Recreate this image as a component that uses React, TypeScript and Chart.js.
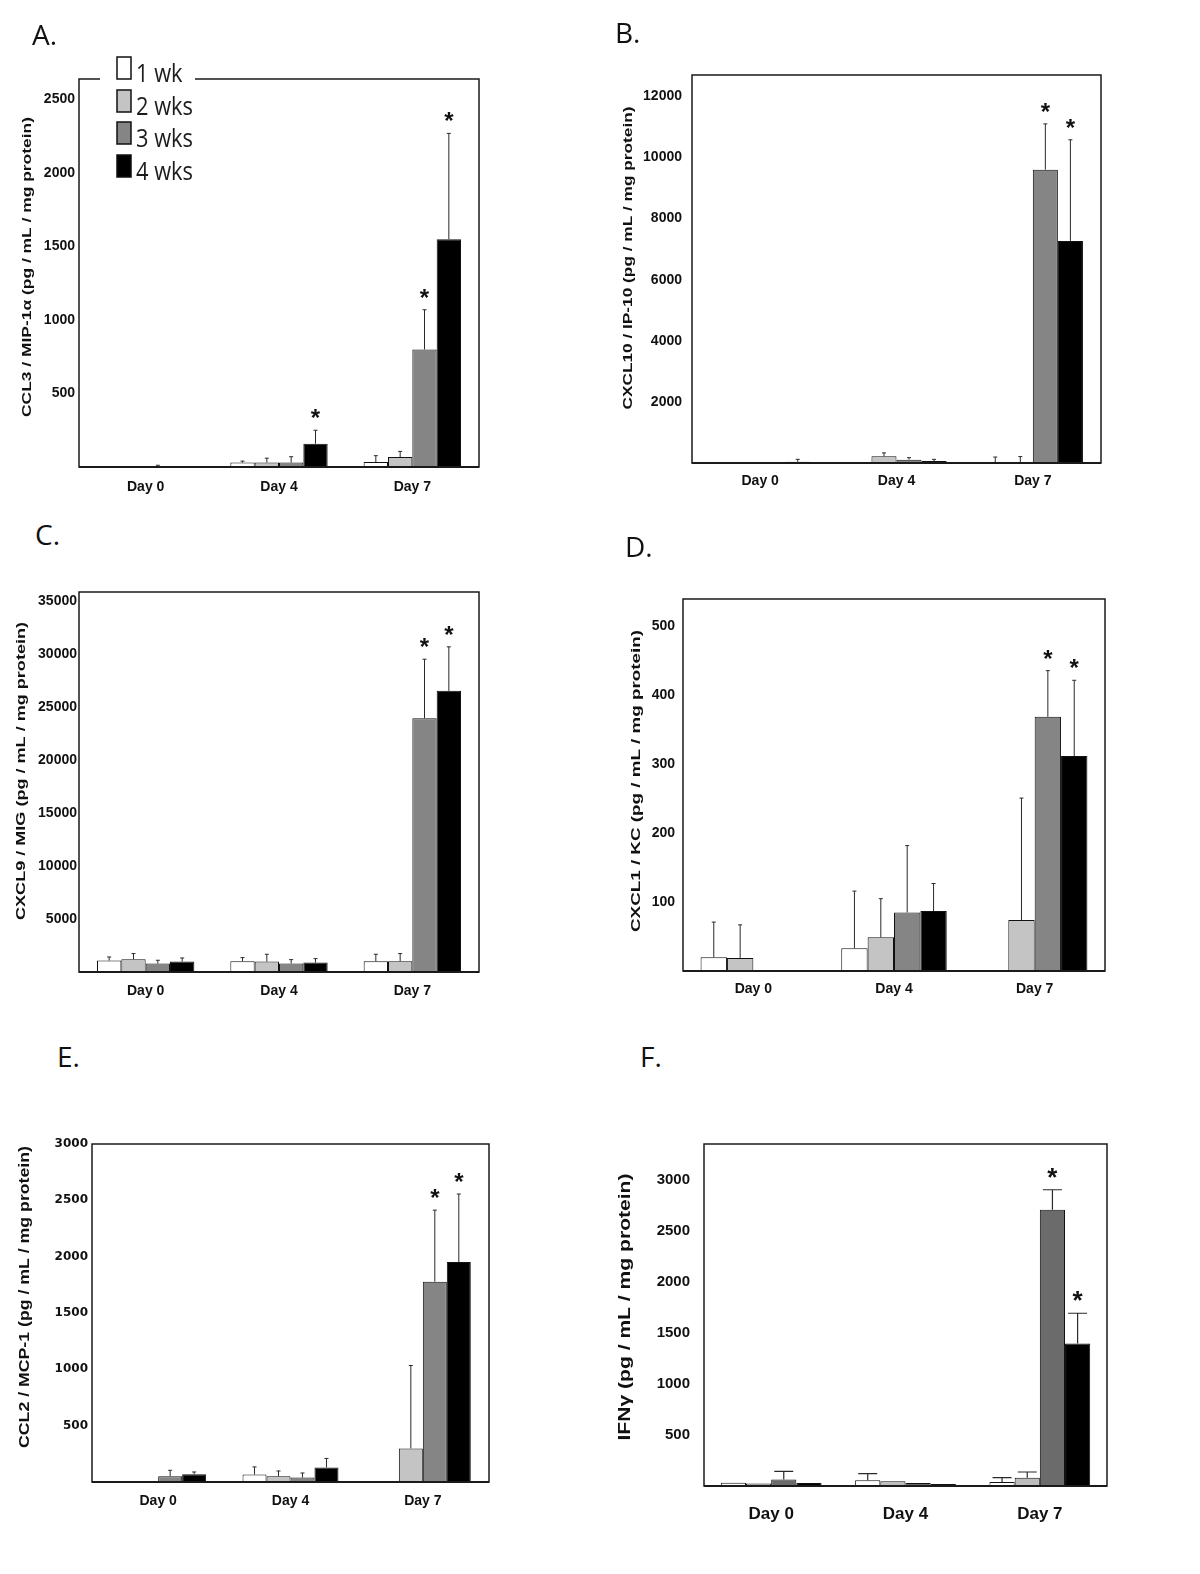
import React, { useEffect, useRef } from "react";
import { Chart, registerables } from "chart.js";

Chart.register(...registerables);

// ---------- shared ----------
const categories = ["Day 0", "Day 4", "Day 7"];
const seriesLabels = ["1 wk", "2 wks", "3 wks", "4 wks"];

// rows = series (1 wk, 2 wks, 3 wks, 4 wks), columns = Day 0, Day 4, Day 7
// A. CCL3 / MIP-1α
const ccl3Mean = [[null, 30, 34], [null, 30, 68], [5, 30, 800], [null, 158, 1550]];
const ccl3Upper = [[null, 40, 77], [null, 60, 106], [12, 70, 1070], [null, 250, 2270]];
const ccl3Sig = [[0, 0, 0], [0, 0, 0], [0, 0, 1], [0, 1, 1]];
const ccl3Ticks = [500, 1000, 1500, 2000, 2500];

// B. CXCL10 / IP-10
const cxcl10Mean = [[null, null, 30], [null, 220, 20], [null, 110, 9600], [40, 65, 7270]];
const cxcl10Upper = [[null, null, 195], [null, 330, 210], [null, 175, 11100], [120, 120, 10580]];
const cxcl10Sig = [[0, 0, 0], [0, 0, 0], [0, 0, 1], [0, 0, 1]];
const cxcl10Ticks = [2000, 4000, 6000, 8000, 10000, 12000];

// C. CXCL9 / MIG
const cxcl9Mean = [[1080, 1010, 1010], [1200, 985, 1010], [795, 795, 23970], [985, 890, 26560]];
const cxcl9Upper = [[1420, 1360, 1675], [1740, 1675, 1740], [1110, 1170, 29550], [1325, 1265, 30720]];
const cxcl9Sig = [[0, 0, 0], [0, 0, 0], [0, 0, 1], [0, 0, 1]];
const cxcl9Ticks = [5000, 10000, 15000, 20000, 25000, 30000, 35000];

// D. CXCL1 / KC
const cxcl1Mean = [[20, 33, null], [19, 49, 74], [null, 85, 369], [null, 87, 312]];
const cxcl1Upper = [[71, 116, null], [67, 105, 251], [null, 182, 436], [null, 127, 422]];
const cxcl1Sig = [[0, 0, 0], [0, 0, 0], [0, 0, 1], [0, 0, 1]];
const cxcl1Ticks = [100, 200, 300, 400, 500];

// E. CCL2 / MCP-1
const ccl2Mean = [[null, 66, null], [null, 51, 298], [51, 39, 1778], [69, 129, 1952]];
const ccl2Upper = [[null, 134, null], [null, 98, 1034], [104, 80, 2413], [89, 209, 2556]];
const ccl2Sig = [[0, 0, 0], [0, 0, 0], [0, 0, 1], [0, 0, 1]];
const ccl2Ticks = [500, 1000, 1500, 2000, 2500, 3000];

// F. IFNγ
const ifngMean = [[33, 56, 39], [25, 46, 82], [63, 29, 2706], [30, 20, 1397]];
const ifngUpper = [[null, 121, 82], [null, null, 137], [144, null, 2902], [null, null, 1692]];
const ifngSig = [[0, 0, 0], [0, 0, 0], [0, 0, 1], [0, 0, 1]];
const ifngTicks = [500, 1000, 1500, 2000, 2500, 3000];

// ---------- styling / layout ----------
const greys = ["#ffffff", "#c4c4c4", "#858585", "#000000"];
const greysF = ["#ffffff", "#bdbdbd", "#6b6b6b", "#000000"];

const narrow = (size) => ({ family: '"Liberation Sans Narrow", "Liberation Sans", Arial', size, weight: "bold" as const });

const panels = [
  {
    key: "A", letter: "A.", letterPos: [32, 20],
    title: "CCL3 / MIP-1α (pg / mL / mg protein)", titleX: 27, titleY: 267, titleLen: 300, titleFont: 'bold 13px "Liberation Sans"',
    mean: ccl3Mean, upper: ccl3Upper, sig: ccl3Sig, ticks: ccl3Ticks, yMax: 2640,
    canvas: { x: 0, y: 50, w: 600, h: 460 }, plot: { l: 79, t: 79, r: 479, b: 467 },
    groupFrac: 0.73, colors: greys, yFont: narrow(14), yPad: 4, xFont: narrow(14), xPad: 12,
    capW: 4, errW: 1, starFont: 'bold 24px "Liberation Sans"', legend: true,
  },
  {
    key: "B", letter: "B.", letterPos: [615, 18],
    title: "CXCL10 / IP-10 (pg / mL / mg protein)", titleX: 628, titleY: 258, titleLen: 303, titleFont: 'bold 13px "Liberation Sans"',
    mean: cxcl10Mean, upper: cxcl10Upper, sig: cxcl10Sig, ticks: cxcl10Ticks, yMax: 12700,
    canvas: { x: 600, y: 50, w: 600, h: 460 }, plot: { l: 692, t: 75, r: 1101, b: 463 },
    groupFrac: 0.735, colors: greys, yFont: narrow(14), yPad: 10, xFont: narrow(14), xPad: 10,
    capW: 4, errW: 1, starFont: 'bold 24px "Liberation Sans"', legend: false,
  },
  {
    key: "C", letter: "C.", letterPos: [35, 520],
    title: "CXCL9 / MIG (pg / mL / mg protein)", titleX: 21, titleY: 771, titleLen: 298, titleFont: 'bold 13px "Liberation Sans"',
    mean: cxcl9Mean, upper: cxcl9Upper, sig: cxcl9Sig, ticks: cxcl9Ticks, yMax: 35900,
    canvas: { x: 0, y: 560, w: 600, h: 460 }, plot: { l: 79, t: 592, r: 479, b: 972 },
    groupFrac: 0.73, colors: greys, yFont: narrow(14), yPad: 2, xFont: narrow(14), xPad: 11,
    capW: 4, errW: 1, starFont: 'bold 24px "Liberation Sans"', legend: false,
  },
  {
    key: "D", letter: "D.", letterPos: [625, 532],
    title: "CXCL1 / KC (pg / mL / mg protein)", titleX: 636, titleY: 781, titleLen: 302, titleFont: 'bold 13px "Liberation Sans"',
    mean: cxcl1Mean, upper: cxcl1Upper, sig: cxcl1Sig, ticks: cxcl1Ticks, yMax: 540,
    canvas: { x: 600, y: 560, w: 600, h: 460 }, plot: { l: 683, t: 599, r: 1105, b: 971 },
    groupFrac: 0.75, colors: greys, yFont: narrow(14), yPad: 8, xFont: narrow(14), xPad: 10,
    capW: 4, errW: 1, starFont: 'bold 24px "Liberation Sans"', legend: false,
  },
  {
    key: "E", letter: "E.", letterPos: [57, 1042],
    title: "CCL2 / MCP-1 (pg / mL / mg protein)", titleX: 25, titleY: 1297, titleLen: 302, titleFont: 'bold 14px "Liberation Sans"',
    mean: ccl2Mean, upper: ccl2Upper, sig: ccl2Sig, ticks: ccl2Ticks, yMax: 3000,
    canvas: { x: 0, y: 1100, w: 600, h: 474 }, plot: { l: 92, t: 1144, r: 489, b: 1482 },
    groupFrac: 0.725, colors: greys,
    yFont: { family: '"DejaVu Sans"', size: 12, weight: "bold" as const }, yPad: 4, xFont: narrow(14), xPad: 11,
    capW: 4, errW: 1, starFont: 'bold 24px "Liberation Sans"', legend: false,
  },
  {
    key: "F", letter: "F.", letterPos: [640, 1042],
    title: "IFNγ (pg / mL / mg protein)", titleX: 626, titleY: 1307, titleLen: 267, titleFont: 'bold 16px "Liberation Sans"',
    mean: ifngMean, upper: ifngUpper, sig: ifngSig, ticks: ifngTicks, yMax: 3350,
    canvas: { x: 600, y: 1100, w: 600, h: 474 }, plot: { l: 704, t: 1144, r: 1107, b: 1486 },
    groupFrac: 0.75, colors: greysF,
    yFont: { family: '"Liberation Sans", Arial', size: 15, weight: "bold" as const }, yPad: 14,
    xFont: { family: '"Liberation Sans", Arial', size: 17, weight: "bold" as const }, xPad: 18,
    capW: 19, errW: 1.2, starFont: 'bold 26px "Liberation Sans"', legend: false,
  },
];

const legendLayout = {
  bg: [100, 52, 95, 132], boxX: 117, boxW: 14, boxH: 22, tops: [57, 90, 122, 155],
  textX: 136, baselines: [82, 115, 147, 180], font: '26px "Open Sans"', refText: "2 wks", refW: 57,
};

function PanelChart({ p }) {
  const ref = useRef(null);
  useEffect(() => {
    const canvas = ref.current;
    const ox = p.canvas.x;
    const oy = p.canvas.y;
    const datasets = seriesLabels.map((label, i) => ({
      label,
      data: p.mean[i],
      backgroundColor: p.colors[i],
      borderColor: "#111",
      borderWidth: 1,
      barPercentage: 1,
      categoryPercentage: p.groupFrac,
    }));

    const decor = {
      id: "decor" + p.key,
      afterDatasetsDraw(chart) {
        const ctx = chart.ctx;
        const ca = chart.chartArea;
        const ys = chart.scales.y;
        ctx.save();
        // plot frame
        ctx.strokeStyle = "#1a1a1a";
        ctx.lineWidth = 1.5;
        ctx.strokeRect(ca.left, ca.top, ca.right - ca.left, ca.bottom - ca.top);
        ctx.lineWidth = 2.2;
        ctx.beginPath();
        ctx.moveTo(ca.left, ca.bottom);
        ctx.lineTo(ca.right, ca.bottom);
        ctx.stroke();

        // error bars and significance stars
        ctx.strokeStyle = "#2a2a2a";
        ctx.lineWidth = p.errW;
        ctx.fillStyle = "#111";
        ctx.font = p.starFont;
        ctx.textAlign = "center";
        ctx.textBaseline = "alphabetic";
        for (let i = 0; i < seriesLabels.length; i++) {
          const meta = chart.getDatasetMeta(i);
          for (let j = 0; j < categories.length; j++) {
            const up = p.upper[i][j];
            if (up == null) continue;
            const el = meta.data[j];
            const x = el.x;
            const yTop = ys.getPixelForValue(up);
            const yBase = ys.getPixelForValue(p.mean[i][j] ?? 0);
            ctx.beginPath();
            ctx.moveTo(x, yBase);
            ctx.lineTo(x, yTop);
            ctx.moveTo(x - p.capW / 2, yTop);
            ctx.lineTo(x + p.capW / 2, yTop);
            ctx.stroke();
            if (p.sig[i][j]) {
              ctx.fillText("*", x, yTop - 4);
            }
          }
        }

        // y-axis title
        ctx.save();
        ctx.translate(p.titleX - ox, p.titleY - oy);
        ctx.rotate(-Math.PI / 2);
        ctx.font = p.titleFont;
        const tw = ctx.measureText(p.title).width;
        ctx.scale(p.titleLen / tw, 1);
        ctx.textAlign = "center";
        ctx.textBaseline = "middle";
        ctx.fillStyle = "#111";
        ctx.fillText(p.title, 0, 0);
        ctx.restore();

        // legend (panel A only)
        if (p.legend) {
          const L = legendLayout;
          ctx.fillStyle = "#ffffff";
          ctx.fillRect(L.bg[0] - ox, L.bg[1] - oy, L.bg[2], L.bg[3]);
          ctx.font = L.font;
          const sx = L.refW / ctx.measureText(L.refText).width;
          for (let k = 0; k < seriesLabels.length; k++) {
            ctx.fillStyle = p.colors[k];
            ctx.fillRect(L.boxX - ox, L.tops[k] - oy, L.boxW, L.boxH);
            ctx.strokeStyle = "#111";
            ctx.lineWidth = 1.5;
            ctx.strokeRect(L.boxX - ox, L.tops[k] - oy, L.boxW, L.boxH);
            ctx.save();
            ctx.translate(L.textX - ox, L.baselines[k] - oy);
            ctx.scale(sx, 1);
            ctx.fillStyle = "#1c1c1c";
            ctx.textAlign = "left";
            ctx.textBaseline = "alphabetic";
            ctx.fillText(seriesLabels[k], 0, 0);
            ctx.restore();
          }
        }
        ctx.restore();
      },
    };

    const chart = new Chart(canvas, {
      type: "bar",
      data: { labels: categories, datasets },
      options: {
        animation: false,
        responsive: false,
        maintainAspectRatio: false,
        devicePixelRatio: 1,
        events: [],
        layout: {
          padding: {
            left: 0,
            top: p.plot.t - oy,
            right: ox + p.canvas.w - p.plot.r,
            bottom: 0,
          },
        },
        plugins: {
          legend: { display: false },
          tooltip: { enabled: false },
          title: { display: false },
        },
        scales: {
          x: {
            type: "category",
            offset: true,
            grid: { display: false, drawTicks: false },
            border: { display: false },
            ticks: { font: p.xFont, color: "#111", padding: p.xPad, maxRotation: 0, autoSkip: false },
            afterFit: (s) => {
              s.height = oy + p.canvas.h - p.plot.b;
            },
          },
          y: {
            type: "linear",
            min: 0,
            max: p.yMax,
            grid: { display: false, drawTicks: false },
            border: { display: false },
            ticks: {
              font: p.yFont,
              color: "#111",
              padding: p.yPad,
              callback: (v) => String(v),
            },
            afterBuildTicks: (s) => {
              s.ticks = p.ticks.map((v) => ({ value: v }));
            },
            afterFit: (s) => {
              s.width = p.plot.l - ox;
            },
          },
        },
      },
      plugins: [decor],
    });
    return () => chart.destroy();
  }, []);
  return (
    <canvas
      ref={ref}
      width={p.canvas.w}
      height={p.canvas.h}
      style={{ position: "absolute", left: p.canvas.x, top: p.canvas.y, width: p.canvas.w, height: p.canvas.h }}
    />
  );
}

export default function App() {
  return (
    <div style={{ position: "absolute", left: 0, top: 0, width: 1200, height: 1574, background: "#fff", overflow: "hidden" }}>
      {panels.map((p) => (
        <PanelChart key={p.key} p={p} />
      ))}
      {panels.map((p) => (
        <div
          key={"l" + p.key}
          style={{
            position: "absolute",
            left: p.letterPos[0],
            top: p.letterPos[1],
            fontFamily: '"Open Sans", sans-serif',
            fontSize: 28,
            lineHeight: "28px",
            color: "#111",
          }}
        >
          {p.letter}
        </div>
      ))}
    </div>
  );
}
